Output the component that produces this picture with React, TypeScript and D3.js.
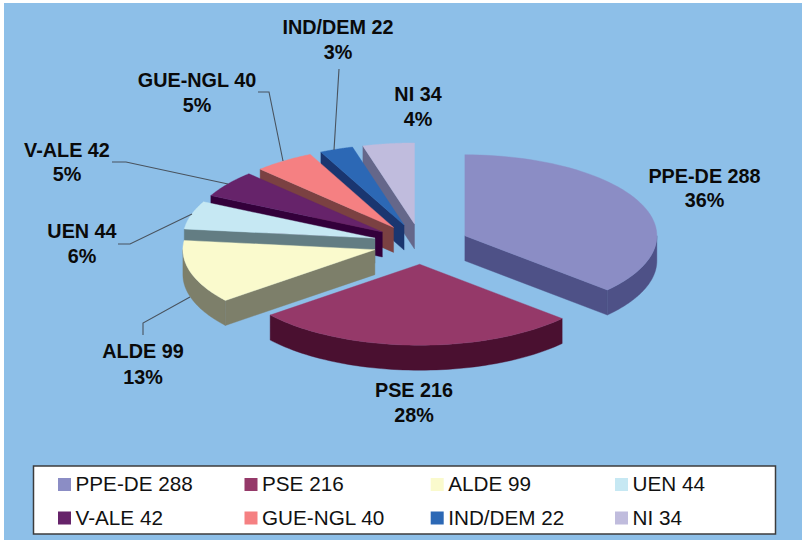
import React from "react";
import * as d3 from "d3";

const groups = ["PPE-DE", "PSE", "ALDE", "UEN", "V-ALE", "GUE-NGL", "IND/DEM", "NI"];
const seats = [288, 216, 99, 44, 42, 40, 22, 34];
const percents = ["36%", "28%", "13%", "6%", "5%", "5%", "3%", "4%"];
const topColors = ["#8b8dc5", "#953969", "#fafacd", "#c6e8f3", "#66236a", "#f58082", "#2c68b5", "#c0bcdd"];
const wallColors = ["#4e5187", "#4a1030", "#7d7f6a", "#637d83", "#33003a", "#7b4142", "#1a3670", "#65678a"];

const labelCentres: [number, number, number][] = [
  [704.5, 183, 207], [414, 397, 422], [143, 358, 384], [82, 238, 263],
  [67, 157, 181], [197, 87, 112], [338, 34, 59], [418, 101, 126],
];
const leaders: [number, number][][] = [
  [[143, 335], [143, 323], [190, 297]],
  [[118, 244], [130, 244], [192, 214]],
  [[112, 162], [126, 162], [228, 184]],
  [[258, 92], [269, 92], [283, 161]],
  [[339, 69], [334, 150]],
];

const W = 802, H = 540;
const CX = 421, CY = 244, RX = 192, RY = 81, EXPLODE = 48, DEPTH = 25;
const FONT = "'Liberation Sans', Arial, sans-serif";

const pie = d3.pie<number>().sort(null).value((d) => d);
const arcs = pie(seats);
const line = d3.line();

type P = [number, number];

function App() {
  const order = d3.range(arcs.length).reverse();

  const slices = order.map((i) => {
    const a = arcs[i];
    const mid = (a.startAngle + a.endAngle) / 2;
    const ox = CX + EXPLODE * Math.sin(mid);
    const oy = CY - (EXPLODE * RY / RX) * Math.cos(mid);
    const pt = (t: number, dz = 0): P => [ox + RX * Math.sin(t), oy - RY * Math.cos(t) + dz];
    const apex: P = [ox, oy];
    const steps = (s: number, e: number) => d3.range(0, 61).map((k) => s + ((e - s) * k) / 60);
    const top = [apex, ...steps(a.startAngle, a.endAngle).map((t) => pt(t))];
    const walls: P[][] = [];
    if (Math.sin(a.startAngle) < -1e-6) {
      walls.push([apex, pt(a.startAngle), pt(a.startAngle, DEPTH), [ox, oy + DEPTH]]);
    }
    if (Math.sin(a.endAngle) > 1e-6) {
      walls.push([apex, pt(a.endAngle), pt(a.endAngle, DEPTH), [ox, oy + DEPTH]]);
    }
    const ws = Math.max(a.startAngle, Math.PI / 2);
    const we = Math.min(a.endAngle, (3 * Math.PI) / 2);
    if (ws < we) {
      const s = steps(ws, we);
      walls.push([...s.map((t) => pt(t)), ...s.slice().reverse().map((t) => pt(t, DEPTH))]);
    }
    return { i, top, walls };
  });

  const legendCols = [58, 244.5, 430.7, 615];
  const legendRows = [478, 511.5];

  return (
    <svg
      width={W}
      height={H}
      viewBox={`0 0 ${W} ${H}`}
      style={{ position: "fixed", left: 0, top: 0, display: "block" }}
      fontFamily={FONT}
    >
      <rect width={W} height={H} fill="#ffffff" />
      <rect x={4} y={3} width={W - 4} height={H - 3} fill="#8dbfe8" />

      {slices.map(({ i, top, walls }) => (
        <g key={groups[i]}>
          {walls.map((w, k) => (
            <path key={k} d={line(w as P[]) + "Z"} fill={wallColors[i]} stroke={wallColors[i]} strokeWidth={0.4} />
          ))}
          <path d={line(top as P[]) + "Z"} fill={topColors[i]} stroke={topColors[i]} strokeWidth={0.4} />
        </g>
      ))}

      {leaders.map((l, k) => (
        <path key={k} d={line(l as P[]) ?? ""} fill="none" stroke="#49535e" strokeWidth={1.1} />
      ))}

      {groups.map((g, i) => (
        <g key={g} fontWeight="bold" fontSize={19.8} fill="#0a0a0a" textAnchor="middle">
          <text x={labelCentres[i][0]} y={labelCentres[i][1]}>{`${g} ${seats[i]}`}</text>
          <text x={labelCentres[i][0]} y={labelCentres[i][2]}>{percents[i]}</text>
        </g>
      ))}

      <rect x={33.5} y={466} width={742} height={68} fill="#ffffff" stroke="#3c3c3c" strokeWidth={1.5} />
      {groups.map((g, i) => {
        const c = i % 4, r = Math.floor(i / 4);
        return (
          <g key={g}>
            <rect x={legendCols[c]} y={legendRows[r]} width={13} height={13} fill={topColors[i]} />
            <text x={legendCols[c] + 17.5} y={legendRows[r] + 13} fontSize={20.7} fill="#111">
              {`${g} ${seats[i]}`}
            </text>
          </g>
        );
      })}
    </svg>
  );
}

export default App;
